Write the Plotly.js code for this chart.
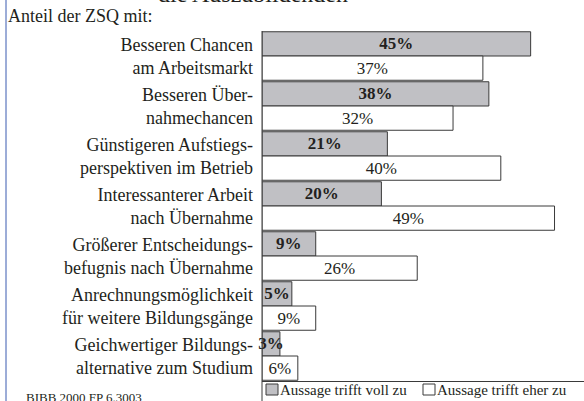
<!DOCTYPE html>
<html>
<head>
<meta charset="utf-8">
<script src="https://cdn.plot.ly/plotly-3.0.1.min.js"></script>
<style>html,body{margin:0;padding:0;background:#fff;}#chart{width:584px;height:401px;}</style>
</head>
<body>
<div id="chart"></div>
<script>
const categories = [
  "Besseren Chancen<br>am Arbeitsmarkt",
  "Besseren Über-<br>nahmechancen",
  "Günstigeren Aufstiegs-<br>perspektiven im Betrieb",
  "Interessanterer Arbeit<br>nach Übernahme",
  "Größerer Entscheidungs-<br>befugnis nach Übernahme",
  "Anrechnungsmöglichkeit<br>für weitere Bildungsgänge",
  "Geichwertiger Bildungs-<br>alternative zum Studium"
];
const trifftVoll = [45, 38, 21, 20, 9, 5, 3];
const trifftEher = [37, 32, 40, 49, 26, 9, 6];
const seriesNames = ["Aussage trifft voll zu", "Aussage trifft eher zu"];
const titleText = "die Auszubildenden";
const subTitle = "Anteil der ZSQ mit:";
const sourceText = "BIBB 2000 FP 6.3003";

const FONT = "Liberation Serif, Times New Roman, serif";
const INK = "#231f20";
const GRAY = "#c0c0c4";
const W = 584, H = 401, L = 262, T = 31, B = 20;
const PW = W - L, PH = H - T - B;
const px = x => (x - L) / PW;
const py = y => (H - B - y) / PH;

const traces = [
  {
    type: "bar", orientation: "h", name: seriesNames[0],
    y: categories, x: trifftVoll,
    text: trifftVoll.map(v => v + "%"),
    textposition: "inside", insidetextanchor: "middle", constraintext: "none", textangle: 0,
    textfont: {family: FONT, size: 17, color: INK, weight: "bold"},
    marker: {color: GRAY, line: {color: "#3a3a3a", width: 1}},
    cliponaxis: false, showlegend: false, hoverinfo: "skip"
  },
  {
    type: "bar", orientation: "h", name: seriesNames[1],
    y: categories, x: trifftEher,
    text: trifftEher.map(v => v + "%"),
    textposition: "inside", insidetextanchor: "middle", constraintext: "none", textangle: 0,
    textfont: {family: FONT, size: 17, color: INK},
    marker: {color: "#ffffff", line: {color: "#3a3a3a", width: 1}},
    cliponaxis: false, showlegend: false, hoverinfo: "skip"
  }
];

const layout = {
  width: W, height: H,
  margin: {l: L, r: 0, t: T, b: B, pad: 0},
  paper_bgcolor: "#fff", plot_bgcolor: "#fff",
  barmode: "group", bargap: 0.03, bargroupgap: 0,
  uniformtext: {mode: "show", minsize: 17},
  font: {family: FONT, color: INK},
  xaxis: {range: [0, PW / 5.97], showgrid: false, zeroline: false, showticklabels: false,
          ticks: "", showline: true, linecolor: "#3a3a3a", linewidth: 1, fixedrange: true},
  yaxis: {autorange: "reversed", showgrid: false, zeroline: false, ticks: "",
          showline: false, ticklabelstandoff: 8,
          tickfont: {family: FONT, size: 18, color: INK}, fixedrange: true},
  shapes: [
    {type: "line", xref: "paper", yref: "paper", x0: 0, x1: 0, y0: py(H), y1: py(T),
     line: {color: "#3a3a3a", width: 1}},
    {type: "line", xref: "paper", yref: "paper", x0: px(6), x1: px(6), y0: py(H), y1: py(0),
     line: {color: "#3b5bb0", width: 1}},
    {type: "rect", xref: "paper", yref: "paper", x0: px(266), x1: px(278), y0: py(384), y1: py(395),
     fillcolor: GRAY, line: {color: "#3a3a3a", width: 1}},
    {type: "rect", xref: "paper", yref: "paper", x0: px(423), x1: px(435), y0: py(384), y1: py(395),
     fillcolor: "#ffffff", line: {color: "#3a3a3a", width: 1}}
  ],
  annotations: [
    {text: titleText, xref: "paper", yref: "paper", x: px(253), y: py(-6), xanchor: "center", yanchor: "middle",
     showarrow: false, font: {family: FONT, size: 24, color: INK}},
    {text: subTitle, xref: "paper", yref: "paper", x: px(6), y: py(16), xanchor: "left", yanchor: "middle",
     showarrow: false, font: {family: FONT, size: 18, color: INK}},
    {text: sourceText, xref: "paper", yref: "paper", x: px(24), y: py(397), xanchor: "left", yanchor: "middle",
     showarrow: false, font: {family: FONT, size: 13, color: INK}},
    {text: seriesNames[0], xref: "paper", yref: "paper", x: px(278), y: py(390), xanchor: "left", yanchor: "middle",
     showarrow: false, font: {family: FONT, size: 15, color: INK}},
    {text: seriesNames[1], xref: "paper", yref: "paper", x: px(435), y: py(390), xanchor: "left", yanchor: "middle",
     showarrow: false, font: {family: FONT, size: 15, color: INK}}
  ]
};

Plotly.newPlot("chart", traces, layout, {displayModeBar: false, staticPlot: true});
</script>
</body>
</html>
